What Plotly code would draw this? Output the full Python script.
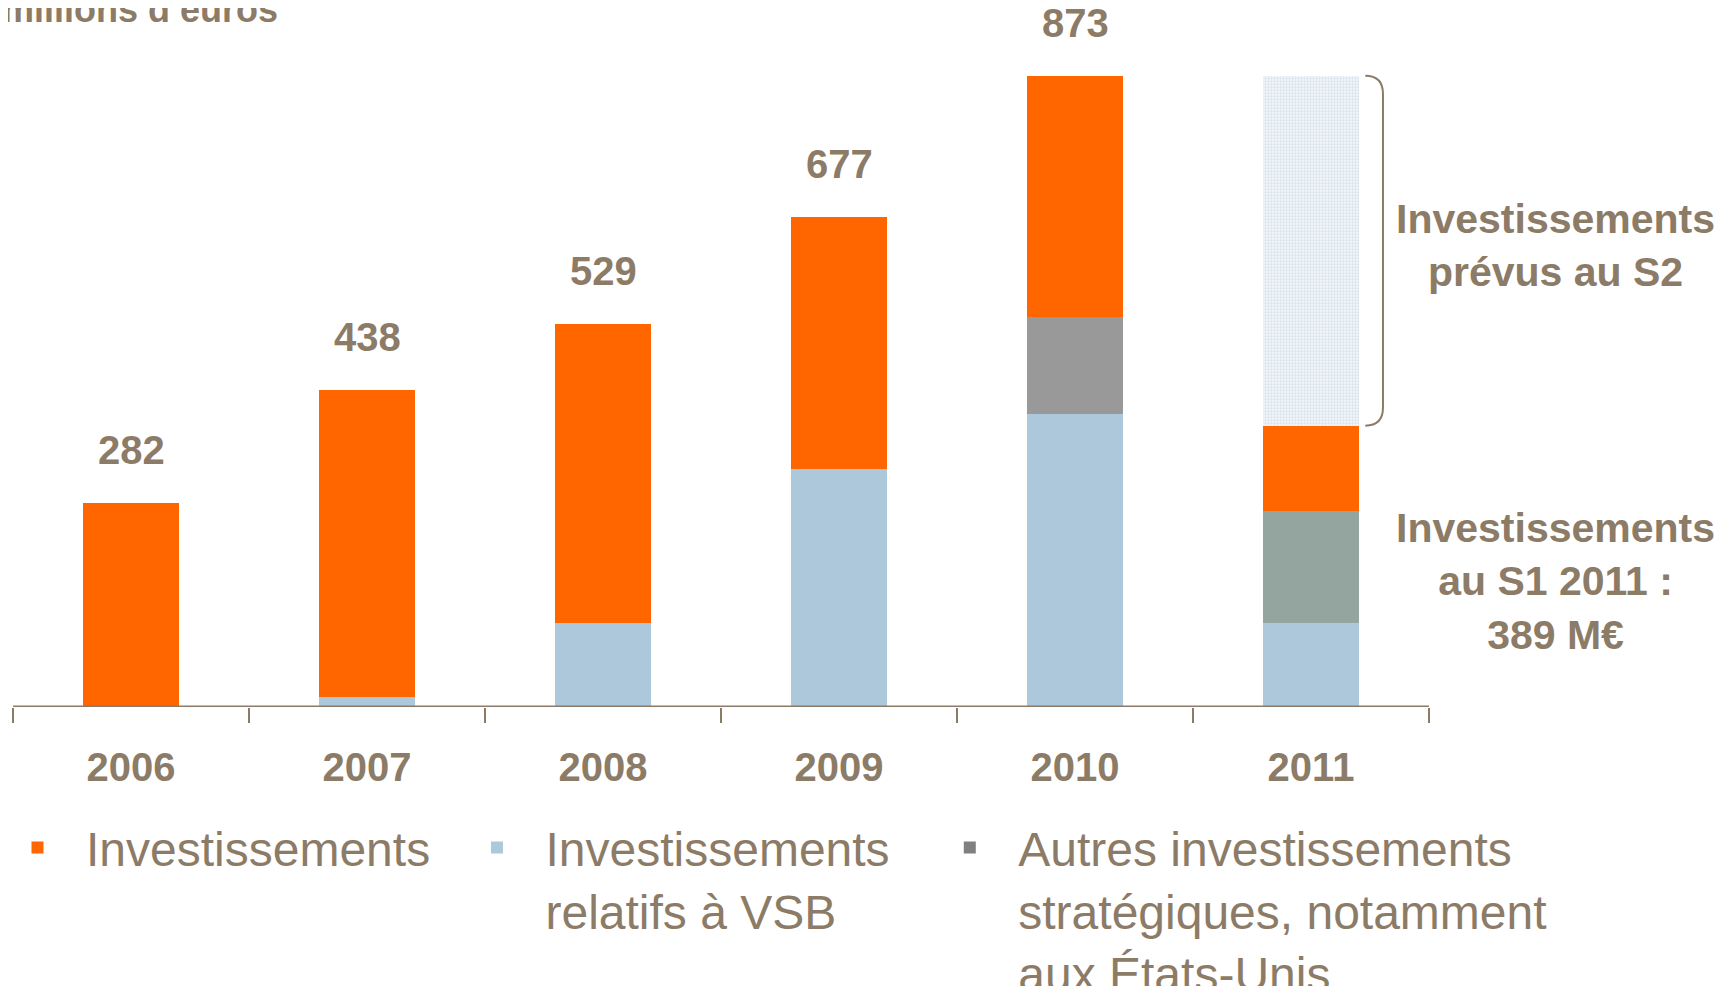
import plotly.graph_objects as go

years = ["2006", "2007", "2008", "2009", "2010", "2011"]
invest = [282, 424, 413, 348, 334, 118]
vsb = [0, 14, 116, 329, 405, 116]
autres = [0, 0, 0, 0, 134, 155]
s2_prevu = [0, 0, 0, 0, 0, 484]
labelled_years = 5  # totals shown for 2006-2010

TXT = "#8C7B66"
ORANGE = "#FF6600"
BLUE = "#ADC8DA"
GRAY_COLORS = ["#808080", "#808080", "#808080", "#808080", "#999999", "#94A49F"]
FONT = "Liberation Sans, Arial, sans-serif"
NB = "\u00a0"

n = len(years)
x = list(range(n))
bw = 0.405
PX_PER_CAT = 236
L, R = 5, 20
PW = 1726 - L - R
x_lo = -0.5
x_hi = x_lo + PW / PX_PER_CAT

fig = go.Figure()
fig.add_trace(go.Bar(x=x, y=vsb, name="Investissements" + NB * 2 + "<br>relatifs à VSB",
                     marker=dict(color=BLUE, line_width=0), width=bw, legendrank=2))
fig.add_trace(go.Bar(x=x, y=autres, name="Autres investissements<br>stratégiques, notamment<br>aux États-Unis",
                     marker=dict(color=GRAY_COLORS, line_width=0), width=bw, legendrank=3))
fig.add_trace(go.Bar(x=x, y=invest, name="Investissements" + NB * 1,
                     marker=dict(color=ORANGE, line_width=0), width=bw, legendrank=1))
fig.add_trace(go.Bar(x=x, y=s2_prevu, name="S2", showlegend=False, width=bw,
                     marker=dict(color="white", line_width=0,
                                 pattern=dict(shape=".", fgcolor="#B9CFDF", bgcolor="#F4F7FA", size=3, solidity=0.45))))

totals = [a + b + c for a, b, c in zip(invest, vsb, autres)]
for i in range(labelled_years):
    fig.add_annotation(x=x[i], y=totals[i], text=f"<b>{totals[i]}</b>", showarrow=False,
                       yanchor="bottom", yshift=29, font=dict(size=40, color=TXT, family=FONT))

# category axis line
fig.add_shape(type="line", x0=x[0] - 0.5, x1=x[-1] + 0.5, y0=0, y1=0, xref="x", yref="y",
              line=dict(color=TXT, width=3))

s1_total = totals[-1]
full_total = s1_total + s2_prevu[-1]
bx0 = x[-1] + 0.23
bx1 = x[-1] + 0.305
r = 25
path = (f"M {bx0},{full_total} Q {bx1},{full_total} {bx1},{full_total - r} "
        f"L {bx1},{s1_total + r} Q {bx1},{s1_total} {bx0},{s1_total}")
fig.add_shape(type="path", path=path, xref="x", yref="y", line=dict(color=TXT, width=2))

fig.add_annotation(x=x[-1] + 1.034, y=(s1_total + full_total) / 2, xref="x", yref="y", yshift=5,
                   xanchor="center", yanchor="middle",
                   text="<b>Investissements<br>prévus au S2</b>", showarrow=False,
                   font=dict(size=41, color=TXT, family=FONT), align="center")
fig.add_annotation(x=x[-1] + 1.034, y=s1_total / 2, xref="x", yref="y", yshift=-15,
                   xanchor="center", yanchor="middle",
                   text=f"<b>Investissements<br>au S1 2011 :<br>{s1_total} M€</b>", showarrow=False,
                   font=dict(size=41, color=TXT, family=FONT), align="center")

fig.add_annotation(x=-13 / PW, y=1.0 - 12 / 687, xref="paper", yref="paper", xanchor="left", yanchor="bottom",
                   text="<b>millions d’euros</b>", showarrow=False,
                   font=dict(size=36, color=TXT, family=FONT))

fig.update_layout(
    barmode="stack",
    width=1726, height=986,
    margin=dict(l=L, r=R, t=12, b=287, autoexpand=False),
    plot_bgcolor="white", paper_bgcolor="white",
    hovermode=False,
    font=dict(family=FONT, color=TXT),
    legend=dict(orientation="h", x=-24 / PW, xanchor="left", y=-0.1496, yanchor="top",
                font=dict(size=48, color=TXT, family=FONT), valign="top",
                traceorder="normal", itemwidth=87),
    xaxis=dict(range=[x_lo, x_hi], tickvals=x, ticktext=[f"<b>{y}</b>" for y in years], ticks="",
               showline=False, showgrid=False, zeroline=False,
               tickfont=dict(size=40, color=TXT, family=FONT),
               ticklabelstandoff=33,
               minor=dict(tickmode="array", tickvals=[v - 0.5 for v in x] + [x[-1] + 0.5],
                          ticks="outside", ticklen=15, tickcolor=TXT, tickwidth=2)),
    yaxis=dict(range=[0, 950], visible=False, showgrid=False, zeroline=False),
)

fig.write_html("out.html")
